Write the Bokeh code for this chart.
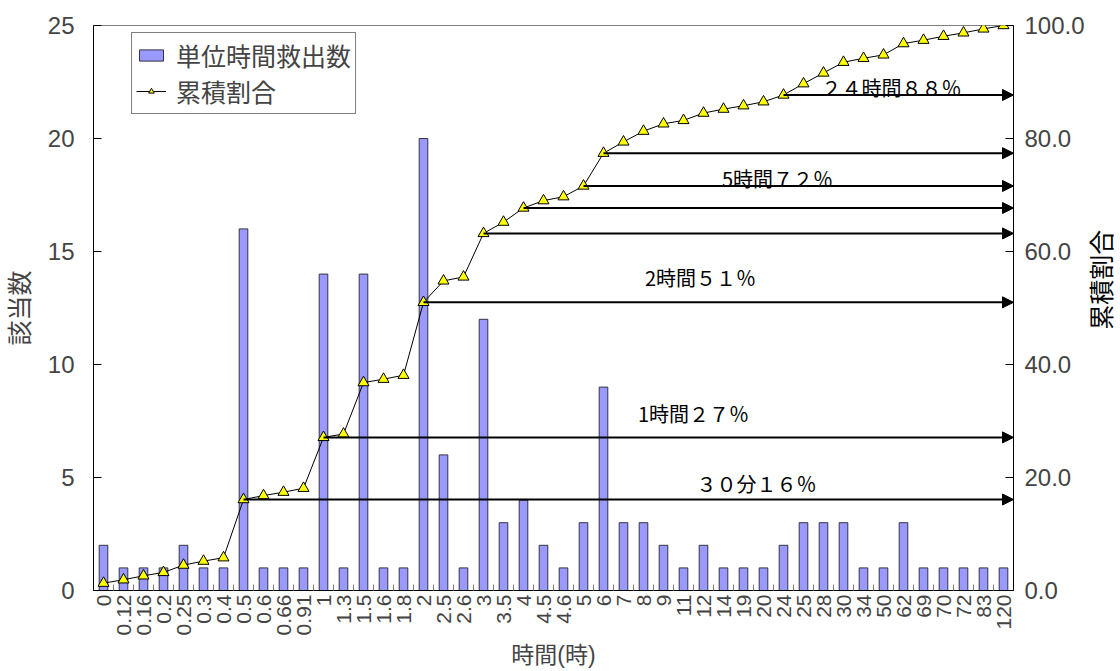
import math
from bokeh.plotting import figure
from bokeh.layouts import row
from bokeh.models import (Range1d, LinearAxis, FixedTicker, NumeralTickFormatter, Legend,
                          LegendItem, Arrow, NormalHead, Label, ColumnDataSource,
                          CustomJSTickFormatter)
from bokeh.core.properties import value
from bokeh.embed import file_html
from bokeh.resources import INLINE

# ---------------- data ----------------
categories = ["0", "0.12", "0.16", "0.2", "0.25", "0.3", "0.4", "0.5", "0.6", "0.66", "0.91",
              "1", "1.3", "1.5", "1.6", "1.8", "2", "2.5", "2.6", "3", "3.5", "4", "4.5", "4.6",
              "5", "6", "7", "8", "9", "11", "12", "14", "19", "20", "24", "25", "28", "30",
              "34", "50", "62", "69", "70", "72", "83", "120"]
counts = [2, 1, 1, 1, 2, 1, 1, 16, 1, 1, 1, 14, 1, 14, 1, 1, 20, 6, 1, 12, 3, 4, 2, 1,
          3, 9, 3, 3, 2, 1, 2, 1, 1, 1, 2, 3, 3, 3, 1, 1, 3, 1, 1, 1, 1, 1]
cumulative = [1.3, 1.9, 2.6, 3.2, 4.5, 5.2, 5.8, 16.1, 16.8, 17.4, 18.1, 27.1, 27.7, 36.8,
              37.4, 38.1, 51.0, 54.8, 55.5, 63.2, 65.2, 67.7, 69.0, 69.7, 71.6, 77.4, 79.4,
              81.3, 82.6, 83.2, 84.5, 85.2, 85.8, 86.5, 87.7, 89.7, 91.6, 93.5, 94.2, 94.8,
              96.8, 97.4, 98.1, 98.7, 99.4, 100.0]
arrow_from = ["0.5", "1", "2", "3", "4", "5", "6", "24"]
note_texts = ["３０分１６％", "1時間２７％", "2時間５１％", "5時間７２％", "２４時間８８％"]
left_ticks = [0, 5, 10, 15, 20, 25]
right_ticks = [0, 20, 40, 60, 80, 100]
x_title = "時間(時)"
left_title = "該当数"
right_title = "累積割合"
legend_labels = ["単位時間救出数", "累積割合"]

# ---------------- layout (annotation positions) ----------------
note_x = [33.15, 30.0, 30.35, 34.2, 39.9]
note_y = [18.9, 31.3, 55.4, 73.0, 89.0]

CJK = "Liberation Sans, Noto Sans CJK JP"
NOTE = "Noto Sans CJK JP"
LAT = "Liberation Sans"

n = len(categories)
xs = [i + 0.5 for i in range(n)]
src = ColumnDataSource(dict(x=xs, cat=categories, count=counts, cum=cumulative))

p = figure(width=1088, height=671, output_backend="svg", toolbar_location=None,
           x_range=Range1d(0, n), y_range=Range1d(0, 25),
           min_border_left=93, min_border_right=75, min_border_top=25, min_border_bottom=80,
           background_fill_color="white", border_fill_color="white")
p.extra_y_ranges = {"pct": Range1d(0, 100)}
p.xgrid.visible = False
p.ygrid.visible = False
p.outline_line_color = "#808080"
p.outline_line_width = 1

bars = p.vbar(x="x", top="count", bottom=0, width=0.43, source=src,
              fill_color="#9999FF", line_color="#333340", line_width=1)
line = p.line(x="x", y="cum", source=src, y_range_name="pct",
              line_color="black", line_width=1)
marks = p.scatter(x="x", y="cum", source=src, y_range_name="pct", marker="triangle",
                  size=11, fill_color="#FFFF00", line_color="black", line_width=1)

for c in arrow_from:
    i = categories.index(c)
    p.add_layout(Arrow(end=NormalHead(size=11, fill_color="black", line_color="black"),
                       x_start=xs[i], y_start=cumulative[i], x_end=n, y_end=cumulative[i],
                       y_range_name="pct", line_width=2, line_color="black"))

for t, x, y in zip(note_texts, note_x, note_y):
    p.add_layout(Label(x=x, y=y, y_range_name="pct", text=t, text_font=NOTE,
                       text_font_size="20px", text_align="center", text_baseline="middle",
                       text_color="black"))

# x axis
xa = p.xaxis[0]
xa.ticker = FixedTicker(ticks=xs, minor_ticks=list(range(n + 1)))
xa.formatter = CustomJSTickFormatter(args=dict(labels=categories),
                                     code="return labels[Math.floor(tick)];")
xa.major_tick_in = 0
xa.major_tick_out = 0
xa.minor_tick_in = 6
xa.minor_tick_out = 0
xa.minor_tick_line_color = "#808080"
xa.major_label_orientation = math.pi / 2
xa.major_label_text_font = LAT
xa.major_label_text_font_size = "21px"
xa.major_label_standoff = 4
xa.axis_line_color = "black"
xa.axis_label = x_title
xa.axis_label_text_font = CJK
xa.axis_label_text_font_size = "23px"
xa.axis_label_text_font_style = "normal"
xa.axis_label_standoff = 4

# left axis
ya = p.yaxis[0]
ya.ticker = FixedTicker(ticks=left_ticks)
ya.major_tick_in = 8
ya.major_tick_out = 0
ya.minor_tick_line_color = None
ya.major_label_text_font = LAT
ya.major_label_text_font_size = "24px"
ya.major_label_standoff = 19
ya.axis_label = left_title
ya.axis_label_text_font = CJK
ya.axis_label_text_font_size = "25px"
ya.axis_label_text_font_style = "normal"
ya.axis_label_standoff = 11
ya.axis_line_color = "black"

# right axis
ra = LinearAxis(y_range_name="pct", ticker=FixedTicker(ticks=right_ticks),
                formatter=NumeralTickFormatter(format="0.0"))
ra.major_tick_in = 8
ra.major_tick_out = 0
ra.minor_tick_line_color = None
ra.major_label_text_font = LAT
ra.major_label_text_font_size = "24px"
ra.major_label_standoff = 11
ra.axis_line_color = "black"
p.add_layout(ra, "right")

legend = Legend(items=[LegendItem(label=legend_labels[0], renderers=[bars]),
                       LegendItem(label=legend_labels[1], renderers=[line, marks])],
                location=(38, 476))
legend.border_line_color = "black"
legend.border_line_width = 1
legend.background_fill_color = "white"
legend.background_fill_alpha = 1
legend.padding = 4
legend.spacing = 0
legend.margin = 0
legend.label_text_font = CJK
legend.label_text_font_size = "25px"
legend.glyph_width = 30
legend.glyph_height = 14
legend.label_standoff = 10
p.add_layout(legend)

# right-hand axis title (reads bottom to top)
p2 = figure(width=32, height=671, output_backend="svg", toolbar_location=None,
            x_range=Range1d(0, 32), y_range=Range1d(0, 671), x_axis_type=None,
            y_axis_type=None, min_border=0, background_fill_color="white",
            border_fill_color="white")
p2.grid.visible = False
p2.outline_line_color = None
p2.text(x=[13], y=[369], text=[right_title], angle=math.pi / 2,
        text_font=value(CJK), text_font_size="25px", text_align="center",
        text_baseline="middle", text_color="black")

layout = row(p, p2)
open("out.html", "w").write(file_html(layout, INLINE))
